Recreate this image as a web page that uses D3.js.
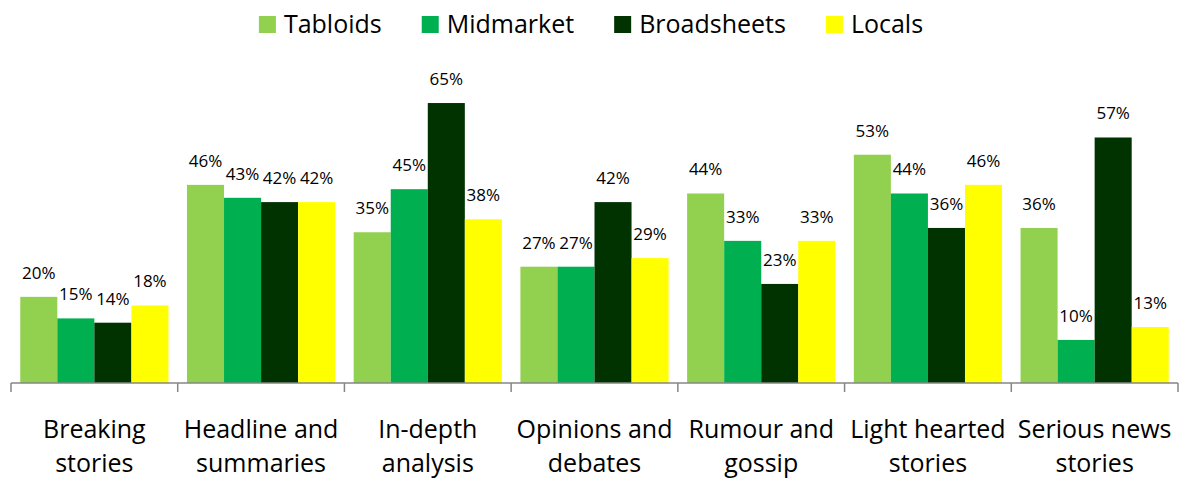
<!DOCTYPE html>
<html>
<head>
<meta charset="utf-8">
<script src="https://cdn.jsdelivr.net/npm/d3@7"></script>
<style>
  body { margin: 0; background: #fff; }
  svg { display: block; font-family: "Open Sans", sans-serif; }
</style>
</head>
<body>
<svg width="1182" height="481"></svg>
<script>
// categories (two-line labels)
const categories = [
  ['Breaking', 'stories'],
  ['Headline and', 'summaries'],
  ['In-depth', 'analysis'],
  ['Opinions and', 'debates'],
  ['Rumour and', 'gossip'],
  ['Light hearted', 'stories'],
  ['Serious news', 'stories']
];
const seriesNames = ['Tabloids', 'Midmarket', 'Broadsheets', 'Locals'];
const seriesColors = ['#92D050', '#00B050', '#003300', '#FFFF00'];

// values per series, in category order (%)
const tabloids    = [20, 46, 35, 27, 44, 53, 36];
const midmarket   = [15, 43, 45, 27, 33, 44, 10];
const broadsheets = [14, 42, 65, 42, 23, 36, 57];
const locals      = [18, 42, 38, 29, 33, 46, 13];
const seriesValues = [tabloids, midmarket, broadsheets, locals];

const svg = d3.select('svg');
const W = 1182;

// scales
const x0 = d3.scaleBand().domain(d3.range(categories.length)).range([11, 1178]).padding(0);
const x1 = d3.scaleBand().domain(seriesNames).range([0, x0.bandwidth()]).paddingInner(0).paddingOuter(0.25);
const y = d3.scaleLinear().domain([0, 70]).range([383, 81.5]);

// bars
const groups = svg.selectAll('g.cat')
  .data(categories.map((c, i) => i))
  .join('g')
  .attr('class', 'cat')
  .attr('transform', i => `translate(${x0(i)},0)`);

groups.selectAll('rect')
  .data(i => seriesNames.map((s, k) => ({s, k, v: seriesValues[k][i]})))
  .join('rect')
  .attr('x', d => x1(d.s))
  .attr('y', d => y(d.v))
  .attr('width', x1.bandwidth())
  .attr('height', d => y(0) - y(d.v))
  .attr('fill', d => seriesColors[d.k]);

// value labels
groups.selectAll('text.val')
  .data(i => seriesNames.map((s, k) => ({s, k, v: seriesValues[k][i]})))
  .join('text')
  .attr('class', 'val')
  .attr('x', d => x1(d.s) + x1.bandwidth() / 2)
  .attr('y', d => y(d.v) - 18)
  .attr('text-anchor', 'middle')
  .style('font-size', '17px')
  .style('fill', '#000')
  .text(d => d.v + '%');

// x axis line + ticks at category boundaries
const axisG = svg.append('g');
axisG.append('line')
  .attr('x1', 11).attr('x2', 1178)
  .attr('y1', y(0)).attr('y2', y(0))
  .attr('stroke', '#868686').attr('stroke-width', 1.5);
axisG.selectAll('line.tick')
  .data(d3.range(categories.length + 1))
  .join('line')
  .attr('class', 'tick')
  .attr('x1', i => 11 + i * x0.step()).attr('x2', i => 11 + i * x0.step())
  .attr('y1', y(0)).attr('y2', y(0) + 9)
  .attr('stroke', '#868686').attr('stroke-width', 1.5);

// category labels
const catText = svg.selectAll('text.cat')
  .data(categories)
  .join('text')
  .attr('class', 'cat')
  .attr('text-anchor', 'middle')
  .style('font-size', '25px')
  .attr('transform', (d, i) => `translate(${x0(i) + x0.bandwidth() / 2},0)`);
catText.selectAll('tspan')
  .data(d => d)
  .join('tspan')
  .attr('x', 0)
  .attr('y', (d, j) => 438 + j * 34)
  .text(d => d);

// legend
const legend = svg.append('g');
let lx = 0;
seriesNames.forEach((name, k) => {
  const item = legend.append('g').attr('transform', `translate(${lx},0)`);
  item.append('rect').attr('x', 0).attr('y', 16).attr('width', 17).attr('height', 17)
    .attr('fill', seriesColors[k]);
  const t = item.append('text').attr('x', 25).attr('y', 33)
    .style('font-size', '25px').text(name);
  lx += 25 + t.node().getComputedTextLength() + 40;
});
lx -= 40;
legend.attr('transform', `translate(${(W - lx) / 2},0)`);
</script>
</body>
</html>
